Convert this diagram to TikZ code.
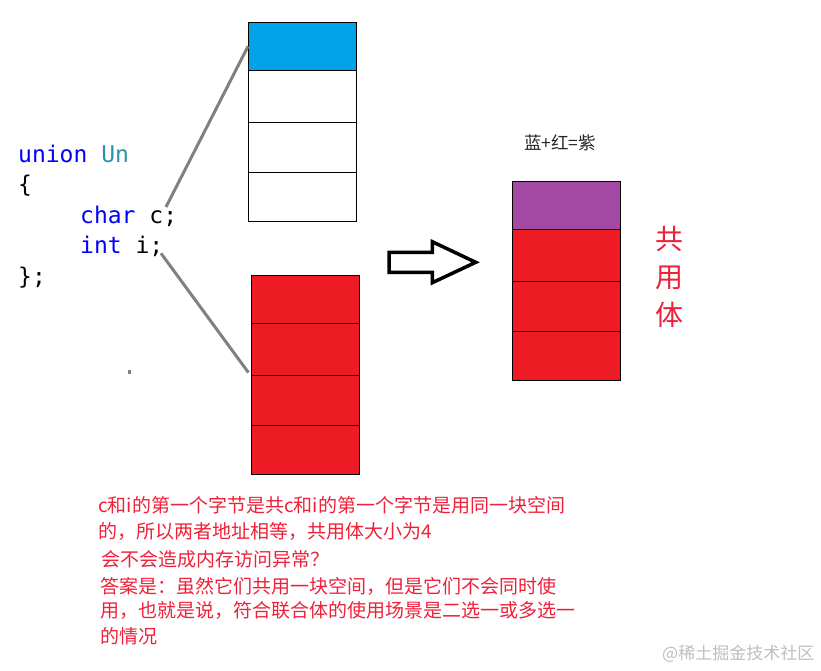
\documentclass[tikz,border=0pt]{standalone}
\usepackage{fontspec}
\setmonofont{DejaVu Sans Mono}
\newfontfamily\cjk{Noto Sans CJK SC}
\usepackage{xcolor}
\usetikzlibrary{positioning}
\definecolor{cellblue}{RGB}{0,162,232}
\definecolor{cellred}{RGB}{237,28,36}
\definecolor{cellpurple}{RGB}{163,73,164}
\definecolor{linkgray}{RGB}{128,128,128}
\definecolor{kwblue}{RGB}{0,0,255}
\definecolor{typeteal}{RGB}{43,145,175}
\definecolor{notered}{RGB}{238,32,58}
\definecolor{markgray}{RGB}{190,190,190}
\newcommand{\codefnt}{\ttfamily\fontsize{23}{30}\selectfont}
\newcommand{\notefnt}{\cjk\fontsize{19}{24}\selectfont}

\begin{document}
\begin{tikzpicture}[x=1pt, y=-1pt,
    cell/.style={draw=black, line width=1pt, inner sep=0pt, minimum width=108pt},
    link/.style={draw=linkgray, line width=3pt},
    code/.style={anchor=base west, inner sep=0pt, font=\codefnt},
    note/.style={anchor=west, inner sep=0pt, text=notered, font=\notefnt}]
    \useasboundingbox (0,0) rectangle (821,670);

    % The union declaration
    \node[code, text=kwblue] (ln1) at (18,162) {union \textcolor{typeteal}{Un}};
    \node[code] (ln2) at (18,192.5) {\{};
    \node[code] (ln3) at (80,223) {\textcolor{kwblue}{char} c;};
    \node[code] (ln4) at (80,253.5) {\textcolor{kwblue}{int} i;};
    \node[code] (ln5) at (18,284) {\};};
    \fill[linkgray] (128,370) rectangle (130.5,373.5);

    % Memory of char c - one byte used
    \node[cell, fill=cellblue, minimum height=48pt] (c1) at (302.5,46.3) {};
    \node[cell, minimum height=52pt] (c2) at (302.5,96.3) {};
    \node[cell, minimum height=50pt] (c3) at (302.5,147.3) {};
    \node[cell, minimum height=48.7pt] (c4) at (302.5,196.7) {};

    % Memory of int i - four bytes used
    \node[cell, fill=cellred, minimum height=48pt] (i1) at (305.3,299.3) {};
    \node[cell, fill=cellred, minimum height=52pt] (i2) at (305.3,349.3) {};
    \node[cell, fill=cellred, minimum height=50pt] (i3) at (305.3,400.3) {};
    \node[cell, fill=cellred, minimum height=48.7pt] (i4) at (305.3,449.7) {};

    % Links from the members
    \coordinate (cpt) at (166,207);
    \coordinate (ipt) at (161,253.3);
    \draw[link] (cpt) -- (c1.west);
    \draw[link, shorten >=4pt] (ipt) -- (i2.south west);

    % Hollow arrow
    \draw[line width=3.5pt, fill=white] (389,252.3) -- (432.3,252.3) -- (432.3,241.7)
        -- (475.7,262.3) -- (432.3,282.7) -- (432.3,272.3) -- (389,272.3) -- cycle;

    % Shared memory of the union
    \node[font=\cjk\fontsize{17.5}{20}\selectfont, text=black!85] (mix) at (560,143) {蓝+红=紫};
    \node[cell, fill=cellpurple, minimum height=47.7pt] (u1) at (566.3,205.2) {};
    \node[cell, fill=cellred, minimum height=52.3pt] (u2) at (566.3,255.2) {};
    \node[cell, fill=cellred, minimum height=50pt] (u3) at (566.3,306.3) {};
    \node[cell, fill=cellred, minimum height=48.7pt] (u4) at (566.3,355.7) {};
    \node[align=center, text=notered, font=\cjk\fontsize{28}{38}\selectfont] (gong) at (669,277) {共\\用\\体};

    % Notes
    \node[note] (n1) at (98,505) {c和i的第一个字节是共c和i的第一个字节是用同一块空间};
    \node[note] (n2) at (98,531.7) {的，所以两者地址相等，共用体大小为4};
    \node[note] (n3) at (101,559) {会不会造成内存访问异常？};
    \node[note] (n4) at (100,586) {答案是：虽然它们共用一块空间，但是它们不会同时使};
    \node[note] (n5) at (100,610.7) {用，也就是说，符合联合体的使用场景是二选一或多选一};
    \node[note] (n6) at (100,636) {的情况};

    % Watermark
    \node[anchor=west, inner sep=0pt, text=markgray, font=\cjk\fontsize{17}{20}\selectfont] (mark) at (662,653.3) {@稀土掘金技术社区};
\end{tikzpicture}
\end{document}
